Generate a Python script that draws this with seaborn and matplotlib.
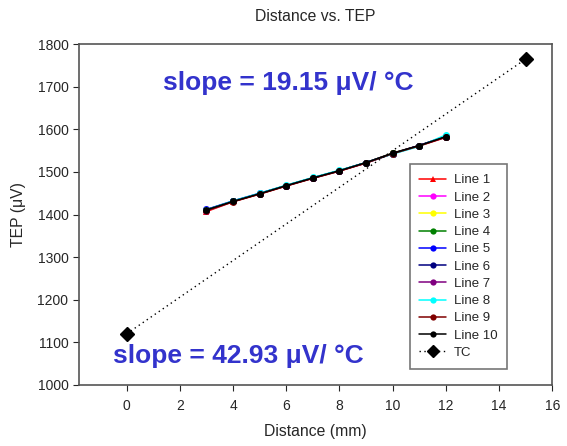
import matplotlib
matplotlib.use("Agg")
import matplotlib.pyplot as plt
import seaborn as sns
import pandas as pd

# data
distance = [3, 4, 5, 6, 7, 8, 9, 10, 11, 12]
line_names = [f"Line {i}" for i in range(1, 11)]
line_values = [
    [1407, 1430, 1448, 1467, 1485, 1502, 1521, 1543, 1561, 1581],
    [1409, 1431, 1449, 1468, 1486, 1503, 1522, 1544, 1562, 1583],
    [1410, 1431, 1449, 1468, 1486, 1503, 1522, 1544, 1562, 1583],
    [1410, 1431, 1449, 1468, 1486, 1503, 1522, 1544, 1562, 1583],
    [1412, 1432, 1450, 1468, 1486, 1503, 1522, 1543, 1562, 1584],
    [1411, 1431, 1449, 1468, 1486, 1503, 1522, 1543, 1562, 1583],
    [1410, 1431, 1449, 1468, 1486, 1503, 1521, 1543, 1562, 1582],
    [1411, 1432, 1450, 1469, 1487, 1504, 1522, 1542, 1560, 1587],
    [1409, 1430, 1448, 1467, 1485, 1502, 1521, 1543, 1561, 1582],
    [1411, 1431, 1449, 1468, 1486, 1503, 1522, 1544, 1562, 1583],
]
line_colors = ["#ff0000", "#ff00ff", "#ffff00", "#008000", "#0000ff",
               "#000080", "#800080", "#00ffff", "#800000", "#000000"]
line_markers = ["^", "o", "o", "o", "o", "o", "o", "o", "o", "o"]
tc_x = [0, 15]
tc_y = [1120, 1765]

rows = []
for name, vals in zip(line_names, line_values):
    for d, v in zip(distance, vals):
        rows.append({"Distance": d, "TEP": v, "series": name})
df = pd.DataFrame(rows)

sns.set_style("ticks")
plt.rcParams["font.family"] = ["Liberation Sans", "DejaVu Sans"]

fig = plt.figure(figsize=(5.67, 4.46), dpi=100)
ax = fig.add_axes([0.139, 0.137, 0.835, 0.764])

sns.lineplot(data=df, x="Distance", y="TEP", hue="series", style="series",
             palette=line_colors, markers=line_markers, dashes=False,
             markersize=5, markeredgewidth=0, linewidth=1.1, ax=ax)
ax.plot(tc_x, tc_y, linestyle=(0, (1, 2.5)), color="black", linewidth=1,
        marker="D", markersize=7, label="TC")

ax.set_xlim(-1.8, 16)
ax.set_ylim(1000, 1800)
ax.set_xticks(range(0, 17, 2))
ax.set_yticks(range(1000, 1801, 100))
ax.tick_params(labelsize=10, length=4, width=0.8, direction="out")
ax.tick_params(axis="x", pad=6)
for s in ax.spines.values():
    s.set_color("#555555")
    s.set_linewidth(1.2)
    s.set_visible(True)

ax.set_xlabel("Distance (mm)", fontsize=11.3, labelpad=8)
ax.set_ylabel("TEP (\u03bcV)", fontsize=11.3, labelpad=8)
ax.set_title("Distance vs. TEP", fontsize=11.3, pad=17)

ax.text(1.36, 1692, "slope = 19.15 \u03bcV/ \u00b0C", color="#3333cc",
        fontsize=19, fontweight="bold", va="baseline")
ax.text(-0.52, 1052, "slope = 42.93 \u03bcV/ \u00b0C", color="#3333cc",
        fontsize=19, fontweight="bold", va="baseline")

handles, labels = ax.get_legend_handles_labels()
leg = ax.legend(handles, labels, loc="lower right", bbox_to_anchor=(0.905, 0.047),
                borderaxespad=0, fontsize=9.5, frameon=True, fancybox=False,
                handlelength=2.0, handletextpad=0.6, labelspacing=0.38,
                borderpad=0.75, markerscale=0.9)
leg.get_frame().set_edgecolor("#555555")
leg.get_frame().set_linewidth(1.2)

fig.savefig("out.png", dpi=100)
